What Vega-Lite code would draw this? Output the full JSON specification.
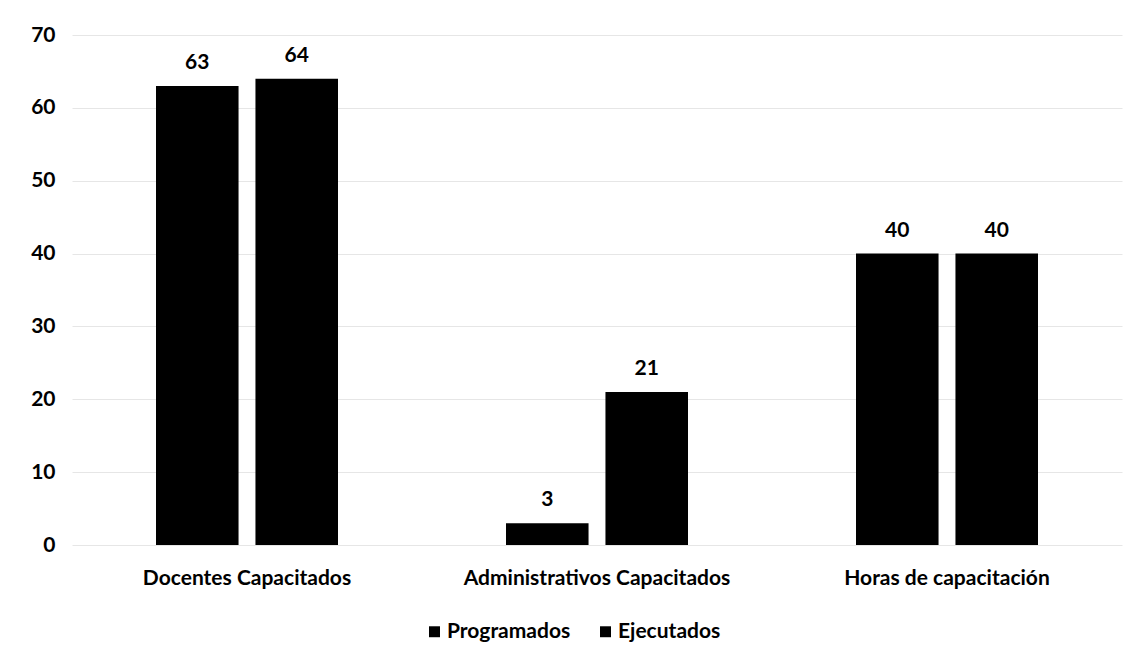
{
  "$schema": "https://vega.github.io/schema/vega-lite/v6.json",
  "width": 1050,
  "height": 510,
  "autosize": "none",
  "padding": {"left": 72, "top": 35, "right": 22, "bottom": 119},
  "background": "white",
  "config": {
    "view": {"stroke": null},
    "font": "Lato",
    "axis": {"labelFont": "Lato", "labelFontWeight": "bold", "labelColor": "#000"},
    "legend": {"labelFont": "Lato", "labelFontWeight": "bold", "labelColor": "#000"}
  },
  "data": {
    "values": [
      {"categoria": "Docentes Capacitados", "serie": "Programados", "valor": 63},
      {"categoria": "Docentes Capacitados", "serie": "Ejecutados", "valor": 64},
      {"categoria": "Administrativos Capacitados", "serie": "Programados", "valor": 3},
      {"categoria": "Administrativos Capacitados", "serie": "Ejecutados", "valor": 21},
      {"categoria": "Horas de capacitación", "serie": "Programados", "valor": 40},
      {"categoria": "Horas de capacitación", "serie": "Ejecutados", "valor": 40}
    ]
  },
  "encoding": {
    "x": {
      "field": "categoria",
      "type": "nominal",
      "sort": null,
      "scale": {"paddingInner": 0.48, "paddingOuter": 0.24},
      "axis": {
        "title": null,
        "labelAngle": 0,
        "labelFontSize": 21,
        "labelPadding": 22,
        "labelLimit": 0,
        "ticks": false,
        "domain": false
      }
    },
    "xOffset": {
      "field": "serie",
      "type": "nominal",
      "sort": ["Programados", "Ejecutados"],
      "scale": {"paddingInner": 0.17, "paddingOuter": 0}
    },
    "y": {
      "field": "valor",
      "type": "quantitative",
      "scale": {"domain": [0, 70], "nice": false},
      "axis": {
        "title": null,
        "values": [0, 10, 20, 30, 40, 50, 60, 70],
        "labelFontSize": 21,
        "labelPadding": 17,
        "ticks": false,
        "domain": false,
        "gridColor": "#e6e6e6",
        "gridWidth": 1
      }
    }
  },
  "layer": [
    {
      "mark": {"type": "bar", "color": "#000"},
      "encoding": {
        "color": {
          "field": "serie",
          "type": "nominal",
          "sort": ["Programados", "Ejecutados"],
          "scale": {"range": ["#000000", "#000000"]},
          "legend": {
            "title": null,
            "orient": "none",
            "direction": "horizontal",
            "legendX": 352,
            "legendY": 586,
            "symbolType": "square",
            "symbolSize": 120,
            "labelFontSize": 21,
            "columnPadding": 24,
            "labelOffset": 2
          }
        }
      }
    },
    {
      "mark": {"type": "text", "baseline": "alphabetic", "dy": -17, "fontSize": 21, "fontWeight": "bold", "color": "#000"},
      "encoding": {"text": {"field": "valor", "type": "quantitative"}}
    }
  ]
}
